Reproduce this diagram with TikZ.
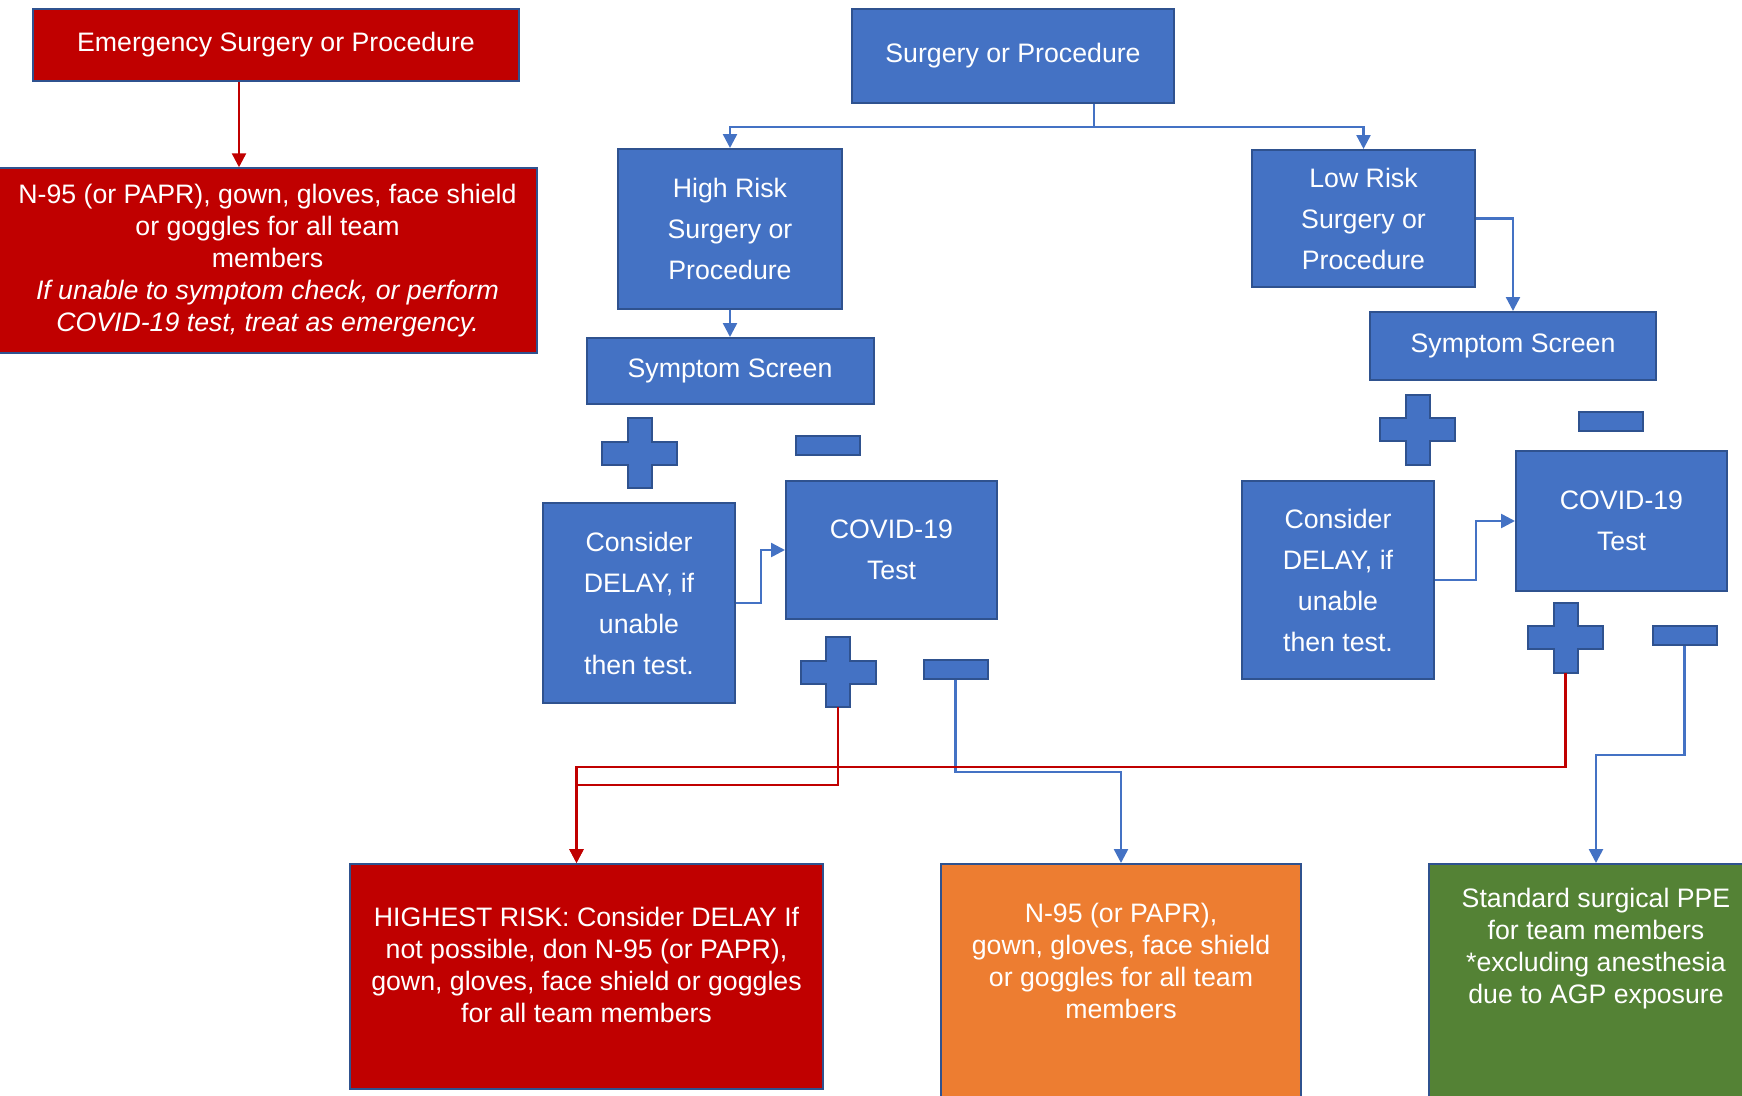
\documentclass[tikz,border=0pt]{standalone}
\usepackage{fontspec}
\setmainfont{Liberation Sans}
\usetikzlibrary{arrows.meta}
\definecolor{boxblue}{HTML}{4472C4}
\definecolor{edgeblue}{HTML}{2F528F}
\definecolor{riskred}{HTML}{C00000}
\definecolor{ppeorange}{HTML}{ED7D31}
\definecolor{ppegreen}{HTML}{548235}
% plus sign: name, x, y
\newcommand{\plusmark}[3]{%
  \draw[markshape] (#2,#3) ++(-12,-35) -- ++(24,0) -- ++(0,23.5) -- ++(25.5,0) -- ++(0,23)
    -- ++(-25.5,0) -- ++(0,23.5) -- ++(-24,0) -- ++(0,-23.5) -- ++(-25.5,0) -- ++(0,-23)
    -- ++(25.5,0) -- cycle;
  \node[minimum width=75pt,minimum height=70pt,inner sep=0pt] (#1) at (#2,#3) {};}
% text at the top of a box: height, width, gap, text
\newcommand{\toptext}[4]{\parbox[c][#1][t]{#2}{\centering\vspace*{#3}#4}}
\begin{document}
\begin{tikzpicture}
  [x=1pt,y=-1pt,
   bluebox/.style={draw=edgeblue,fill=boxblue,line width=2pt,text=white,align=center,
     inner sep=0pt,font=\fontsize{26.7pt}{41pt}\selectfont},
   redbox/.style={draw=edgeblue,fill=riskred,line width=1.5pt,text=white,align=center,
     inner sep=0pt,font=\fontsize{26.7pt}{32pt}\selectfont},
   ppebox/.style={draw=edgeblue,line width=2pt,text=white,inner sep=0pt,
     font=\fontsize{26.7pt}{32pt}\selectfont},
   markshape/.style={draw=edgeblue,fill=boxblue,line width=2pt},
   minusmark/.style={markshape,minimum height=19pt,minimum width=64pt,inner sep=0pt},
   bluearrow/.style={draw=boxblue,line width=2.5pt,-{Triangle[length=14pt,width=14pt]}},
   redarrow/.style={draw=riskred,line width=2.5pt,-{Triangle[length=14pt,width=14pt]}},
   node distance=142pt]
  \useasboundingbox (0,0) rectangle (1742,1095);
  \clip (0,0) rectangle (1742,1095);

  % emergency branch
  \node[redbox,minimum width=486pt,minimum height=72pt] (emerg) at (276,45) {Emergency Surgery or Procedure};
  \node[redbox,minimum width=539pt,minimum height=185pt] (redppe) at (267.5,260.5)
    {N-95 (or PAPR), gown, gloves, face shield\\or goggles for all team\\members\\
     \itshape If unable to symptom check, or perform\\\itshape COVID-19 test, treat as emergency.};

  % main branch
  \node[bluebox,minimum width=322pt,minimum height=94pt] (surg) at (1013,56) {Surgery or Procedure};
  \node[bluebox,minimum width=224pt,minimum height=160pt] (highrisk) at (730,229) {High Risk\\Surgery or\\Procedure};
  \node[bluebox,minimum width=287pt,minimum height=66pt,below of=highrisk] (symhigh) {Symptom Screen};
  \node[bluebox,minimum width=223pt,minimum height=137pt] (lowrisk) at (1363.5,218.5) {Low Risk\\Surgery or\\Procedure};
  \node[bluebox,minimum width=286pt,minimum height=68pt,below of=lowrisk,node distance=127.5pt,xshift=149.5pt] (symlow) {Symptom Screen};

  \node[bluebox,minimum width=192pt,minimum height=200pt] (delayhigh) at (639,603) {Consider\\DELAY, if\\unable\\then test.};
  \node[bluebox,minimum width=211pt,minimum height=138pt,right of=delayhigh,node distance=252.5pt,yshift=53pt] (testhigh) {COVID-19\\Test};
  \node[bluebox,minimum width=192pt,minimum height=198pt] (delaylow) at (1338,580) {Consider\\DELAY, if\\unable\\then test.};
  \node[bluebox,minimum width=211pt,minimum height=140pt,right of=delaylow,node distance=283.5pt,yshift=59pt] (testlow) {COVID-19\\Test};

  % results
  \plusmark{screenplushigh}{639.5}{453}
  \node[minusmark] (screenminushigh) at (828,445.5) {};
  \plusmark{testplushigh}{838}{672}
  \node[minusmark] (testminushigh) at (955.5,669.5) {};
  \plusmark{screenpluslow}{1417.5}{429.5}
  \node[minusmark] (screenminuslow) at (1611,421) {};
  \plusmark{testpluslow}{1565.5}{637.5}
  \node[minusmark] (testminuslow) at (1684.5,635.5) {};

  % PPE outcomes
  \node[ppebox,fill=riskred,anchor=north] (highest) at (586.5,863)
    {\toptext{225pt}{473pt}{43pt}{HIGHEST RISK: Consider DELAY If\\not possible, don N-95 (or PAPR),\\gown, gloves, face shield or goggles\\for all team members}};
  \node[ppebox,fill=ppeorange,anchor=north] (ppefull) at (1121,863)
    {\toptext{260pt}{360pt}{39pt}{N-95 (or PAPR),\\gown, gloves, face shield\\or goggles for all team\\members}};
  \node[ppebox,fill=ppegreen,anchor=north] (ppestd) at (1596,863)
    {\toptext{260pt}{334pt}{24pt}{Standard surgical PPE\\for team members\\\relax *excluding anesthesia\\due to AGP exposure}};

  \draw[redarrow] ([xshift=-37pt]emerg.south) -- ([xshift=-37pt]emerg.south |- redppe.north);
  \draw[bluearrow] ([xshift=81pt]surg.south) -- ++(0,23) -| (highrisk.north);
  \draw[bluearrow] ([xshift=81pt]surg.south) -- ++(0,23) -| (lowrisk.north);
  \draw[bluearrow] (highrisk.south) -- (symhigh.north);
  \draw[bluearrow] (lowrisk.east) -| (symlow.north);
  \draw[bluearrow] (delayhigh.east) -- ++(25,0) |- (testhigh.west);
  \draw[bluearrow] (delaylow.east) -- ++(41,0) |- (testlow.west);
  \draw[bluearrow] (testminushigh.south) -- ++(0,92) -| (ppefull.north);
  \draw[bluearrow] (testminuslow.south) -- ++(0,109) -| (ppestd.north);
  \draw[redarrow] (testplushigh.south) -- ++(0,78) -| ([xshift=-10pt]highest.north);
  \draw[redarrow] (testpluslow.south) -- ++(0,94.5) -| ([xshift=-10pt]highest.north);
\end{tikzpicture}
\end{document}
